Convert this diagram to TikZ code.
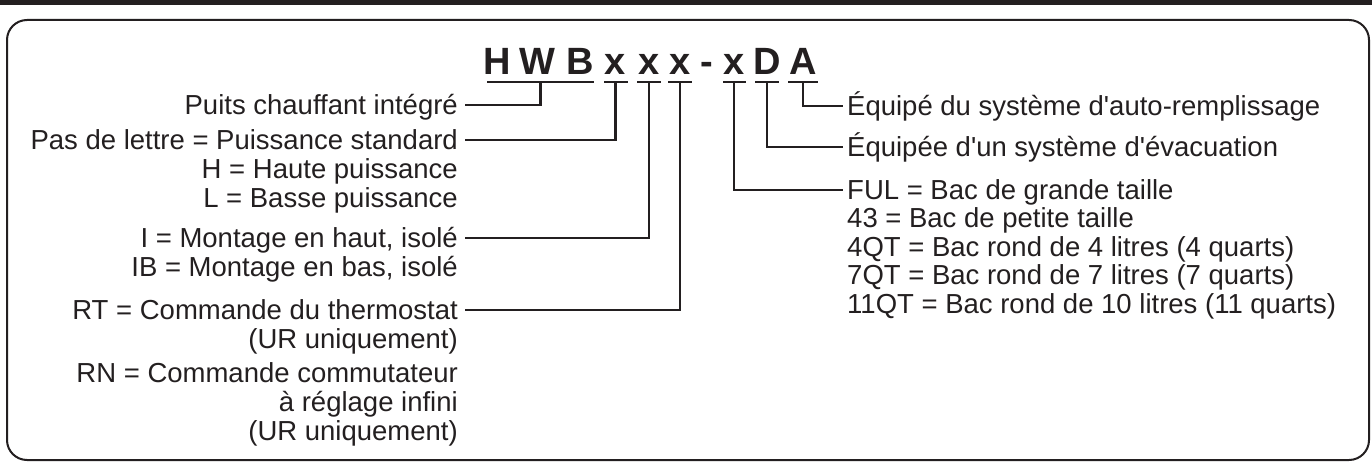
\documentclass[tikz,border=0pt]{standalone}
\usepackage{fontspec}
\setmainfont{Liberation Sans}[Ligatures=TeXOff]
\definecolor{ink}{HTML}{231F20}
\begin{document}
\begin{tikzpicture}[x=1pt,y=-1pt,
  lbl/.style={inner ysep=0pt,text height=19.7pt,text depth=0pt,text=ink,
    font=\fontsize{27.5}{29}\selectfont},
  lft/.style={lbl,anchor=east,inner xsep=7pt},
  rgt/.style={lbl,anchor=west,inner xsep=4pt},
  ttl/.style={anchor=base,inner sep=0pt,text=ink,font=\fontsize{38}{40}\selectfont\bfseries},
  ubar/.style={fill=ink,inner sep=0pt,minimum height=2.4pt},
  conn/.style={draw=ink,line width=2.4pt},
  frame/.style={draw=ink,line width=2pt,rounded corners=20pt}]
\useasboundingbox (0,0) rectangle (1372,462);
% top bar and frame
\fill[ink] (0,0) rectangle (1372,5.5);
\draw[frame] (7,20) rectangle (1369,460);
% title letters
\node[ttl] (tH) at (497.5,75) {H};
\node[ttl] (tW) at (537,75) {W};
\node[ttl] (tB) at (580.5,75) {B};
\node[ttl] (tx1) at (615.5,75) {x};
\node[ttl] (tx2) at (649,75) {x};
\node[ttl] (tx3) at (680,75) {x};
\node[ttl] (tdash) at (707,75) {-};
\node[ttl] (tx4) at (734,75) {x};
\node[ttl] (tD) at (767,75) {D};
\node[ttl] (tA) at (803,75) {A};
% underlines
\node[ubar,minimum width=107pt] (uhwb) at (540.5,82) {};
\node[ubar,minimum width=24pt] (ux1) at (615.5,82) {};
\node[ubar,minimum width=24pt] (ux2) at (649,82) {};
\node[ubar,minimum width=24pt] (ux3) at (680,82) {};
\node[ubar,minimum width=23pt] (ux4) at (734,82) {};
\node[ubar,minimum width=24pt] (uD) at (767,82) {};
\node[ubar,minimum width=30pt] (uA) at (803,82) {};
% left labels
\node[lft] (puits) at (465,105) {Puits chauffant intégré};
\node[lft] (pas) at (465,140) {Pas de lettre = Puissance standard};
\node[lft] (haute) at (465,169) {H = Haute puissance};
\node[lft] (basse) at (465,198) {L = Basse puissance};
\node[lft] (haut) at (465,238) {I = Montage en haut, isolé};
\node[lft] (bas) at (465,267) {IB = Montage en bas, isolé};
\node[lft] (rt) at (465,310) {RT = Commande du thermostat};
\node[lft] (ur1) at (465,339) {(UR uniquement)};
\node[lft] (rn) at (465,373) {RN = Commande commutateur};
\node[lft] (regl) at (465,402) {à réglage infini};
\node[lft] (ur2) at (465,431) {(UR uniquement)};
% right labels
\node[rgt] (auto) at (843,106) {Équipé du système d'auto-remplissage};
\node[rgt] (evac) at (843,147) {Équipée d'un système d'évacuation};
\node[rgt] (ful) at (843,190) {FUL = Bac de grande taille};
\node[rgt] (b43) at (843,218) {43 = Bac de petite taille};
\node[rgt] (q4) at (843,247) {4QT = Bac rond de 4 litres (4 quarts)};
\node[rgt] (q7) at (843,275) {7QT = Bac rond de 7 litres (7 quarts)};
\node[rgt] (q11) at (843,304) {11QT = Bac rond de 10 litres (11 quarts)};
% connectors
\draw[conn] (uhwb.center) |- (puits.east);
\draw[conn] (ux1.center) |- (pas.east);
\draw[conn] (ux2.center) |- (haut.east);
\draw[conn] (ux3.center) |- (rt.east);
\draw[conn] (ux4.center) |- (ful.west);
\draw[conn] (uD.center) |- (evac.west);
\draw[conn] (uA.center) |- (auto.west);
\end{tikzpicture}
\end{document}
